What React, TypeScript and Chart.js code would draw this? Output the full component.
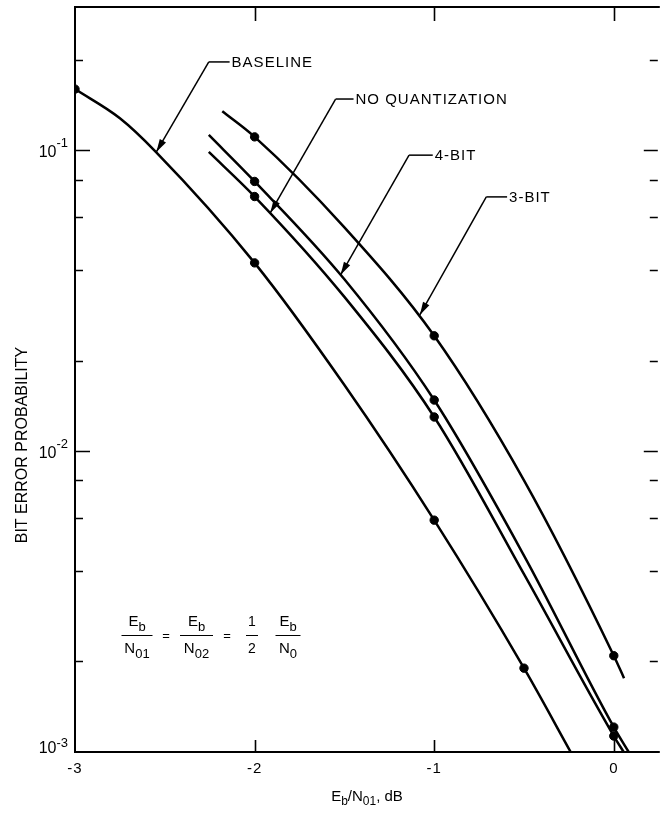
import { useEffect, useRef } from "react";
import { Chart, registerables } from "chart.js";

Chart.register(...registerables);

// ---------- axis ranges & ticks ----------
const X_MIN = -3;
const X_MAX = 0.245;
const Y_MIN = 0.001;
const Y_MAX = 0.3;

const xTickValues = [-3, -2, -1, 0];
const xTickLabels = ["-3", "-2", "-1", "0"];
const xFrameTickValues = [-2, -1, 0];
const yMajorValues = [0.1, 0.01, 0.001];
const yMajorExponents = ["-1", "-2", "-3"];
const yMinorValues = [0.2, 0.08, 0.06, 0.04, 0.02, 0.008, 0.006, 0.004, 0.002];

// ---------- series (curves + measured points) ----------
const baselineCurveX = [-3, -2.75, -2.55, -2, -1.5, -1, -0.5, -0.24];
const baselineCurveY = [0.16, 0.128, 0.099, 0.0423, 0.0166, 0.0059, 0.0019, 0.001];
const baselineDotX = [-3, -2, -1, -0.5];
const baselineDotY = [0.16, 0.0423, 0.0059, 0.0019];

const noQuantCurveX = [-2.255, -2, -1.5, -1, -0.5, 0, 0.055];
const noQuantCurveY = [0.0989, 0.0703, 0.0326, 0.013, 0.0039, 0.00113, 0.001];
const noQuantDotX = [-2, -1, 0];
const noQuantDotY = [0.0703, 0.013, 0.00113];

const fourBitCurveX = [-2.255, -2, -1.5, -1, -0.5, 0, 0.083];
const fourBitCurveY = [0.1126, 0.0789, 0.0373, 0.0148, 0.0045, 0.00121, 0.001];
const fourBitDotX = [-2, -1, 0];
const fourBitDotY = [0.0789, 0.0148, 0.00121];

const threeBitCurveX = [-2.18, -2, -1.5, -1, -0.5, 0, 0.057];
const threeBitCurveY = [0.135, 0.111, 0.0555, 0.0242, 0.008, 0.00209, 0.00176];
const threeBitDotX = [-2, -1, 0];
const threeBitDotY = [0.111, 0.0242, 0.00209];

// ---------- callout annotations (data coordinates) ----------
const calloutText = ["BASELINE", "NO QUANTIZATION", "4-BIT", "3-BIT"];
const calloutTextX = [-2.128, -1.438, -0.997, -0.583];
const calloutTextY = [0.197, 0.1483, 0.0965, 0.0701];
const calloutElbowX = [-2.255, -1.549, -1.14, -0.71];
const calloutTipX = [-2.547, -1.913, -1.521, -1.08];
const calloutTipY = [0.0989, 0.062, 0.0386, 0.0284];

const FONT = '"Liberation Sans", Arial, Helvetica, sans-serif';

type Part = { t: string; size: number; dy?: number };

function pts(xs: number[], ys: number[]) {
  return xs.map((x, i) => ({ x, y: ys[i] }));
}

function richWidth(ctx: CanvasRenderingContext2D, parts: Part[]) {
  let w = 0;
  for (const p of parts) {
    ctx.font = `${p.size}px ${FONT}`;
    w += ctx.measureText(p.t).width;
  }
  return w;
}

function drawRich(
  ctx: CanvasRenderingContext2D,
  parts: Part[],
  x: number,
  y: number,
  align: "left" | "center" | "right"
) {
  const w = richWidth(ctx, parts);
  let cx = align === "left" ? x : align === "center" ? x - w / 2 : x - w;
  ctx.textAlign = "left";
  ctx.textBaseline = "alphabetic";
  for (const p of parts) {
    ctx.font = `${p.size}px ${FONT}`;
    ctx.fillText(p.t, cx, y + (p.dy || 0));
    cx += ctx.measureText(p.t).width;
  }
}

function drawArrow(ctx: CanvasRenderingContext2D, x1: number, y1: number, x2: number, y2: number) {
  ctx.lineWidth = 1.5;
  ctx.beginPath();
  ctx.moveTo(x1, y1);
  ctx.lineTo(x2, y2);
  ctx.stroke();
  const a = Math.atan2(y2 - y1, x2 - x1);
  const L = 13;
  const W = 3.6;
  const bx = x2 - L * Math.cos(a);
  const by = y2 - L * Math.sin(a);
  const nx = -Math.sin(a);
  const ny = Math.cos(a);
  ctx.beginPath();
  ctx.moveTo(x2, y2);
  ctx.lineTo(bx + W * nx, by + W * ny);
  ctx.lineTo(bx - W * nx, by - W * ny);
  ctx.closePath();
  ctx.fill();
}

function drawFraction(
  ctx: CanvasRenderingContext2D,
  cx: number,
  half: number,
  num: Part[],
  den: Part[]
) {
  const barY = 635;
  drawRich(ctx, num, cx, 626, "center");
  drawRich(ctx, den, cx, 653, "center");
  ctx.lineWidth = 1;
  ctx.beginPath();
  ctx.moveTo(cx - half, barY + 0.5);
  ctx.lineTo(cx + half, barY + 0.5);
  ctx.stroke();
}

const overlayPlugin = {
  id: "overlay",
  afterDraw(chart: any) {
    const ctx: CanvasRenderingContext2D = chart.ctx;
    const xs = chart.scales.x;
    const ys = chart.scales.y;
    const { left, right, top, bottom } = chart.chartArea;
    ctx.save();
    ctx.strokeStyle = "#000";
    ctx.fillStyle = "#000";

    // frame (left, top, bottom)
    ctx.lineWidth = 2;
    ctx.beginPath();
    ctx.moveTo(right + 2, top);
    ctx.lineTo(left, top);
    ctx.lineTo(left, bottom);
    ctx.lineTo(right + 2, bottom);
    ctx.stroke();

    // inside ticks, x
    ctx.lineWidth = 1.6;
    for (const v of xFrameTickValues) {
      const px = Math.round(xs.getPixelForValue(v)) + 0.5;
      ctx.beginPath();
      ctx.moveTo(px, top);
      ctx.lineTo(px, top + 14);
      ctx.moveTo(px, bottom);
      ctx.lineTo(px, bottom - 12);
      ctx.stroke();
    }
    // inside ticks, y
    for (const v of yMajorValues) {
      if (v <= Y_MIN) continue;
      const py = Math.round(ys.getPixelForValue(v)) + 0.5;
      ctx.beginPath();
      ctx.moveTo(left, py);
      ctx.lineTo(left + 15, py);
      ctx.moveTo(right, py);
      ctx.lineTo(right - 14, py);
      ctx.stroke();
    }
    for (const v of yMinorValues) {
      const py = Math.round(ys.getPixelForValue(v)) + 0.5;
      ctx.beginPath();
      ctx.moveTo(left, py);
      ctx.lineTo(left + 8, py);
      ctx.moveTo(right, py);
      ctx.lineTo(right - 8, py);
      ctx.stroke();
    }

    // x tick labels
    ctx.letterSpacing = "1px";
    xTickValues.forEach((v, i) => {
      drawRich(ctx, [{ t: xTickLabels[i], size: 15 }], xs.getPixelForValue(v), 773, "center");
    });
    ctx.letterSpacing = "0px";

    // y tick labels 10^n
    const baseOff = [7, 7, 1];
    const supOff = [-10, -10, -6];
    yMajorValues.forEach((v, i) => {
      const py = ys.getPixelForValue(v);
      drawRich(
        ctx,
        [
          { t: "10", size: 16 },
          { t: yMajorExponents[i], size: 13, dy: supOff[i] },
        ],
        68,
        py + baseOff[i],
        "right"
      );
    });

    // axis titles
    drawRich(
      ctx,
      [
        { t: "E", size: 15 },
        { t: "b", size: 12, dy: 4 },
        { t: "/N", size: 15 },
        { t: "01", size: 12, dy: 4 },
        { t: ", dB", size: 15 },
      ],
      367,
      801,
      "center"
    );
    ctx.save();
    ctx.translate(27, 445);
    ctx.rotate(-Math.PI / 2);
    drawRich(ctx, [{ t: "BIT ERROR PROBABILITY", size: 16 }], 0, 0, "center");
    ctx.restore();

    // callouts
    ctx.letterSpacing = "1px";
    calloutText.forEach((txt, i) => {
      const tx = xs.getPixelForValue(calloutTextX[i]);
      const ty = ys.getPixelForValue(calloutTextY[i]);
      const ex = xs.getPixelForValue(calloutElbowX[i]);
      const tipx = xs.getPixelForValue(calloutTipX[i]);
      const tipy = ys.getPixelForValue(calloutTipY[i]);
      ctx.font = `15px ${FONT}`;
      ctx.textAlign = "left";
      ctx.textBaseline = "middle";
      ctx.fillText(txt, tx, ty + 1);
      ctx.lineWidth = 1.5;
      ctx.beginPath();
      ctx.moveTo(tx - 2, ty);
      ctx.lineTo(ex, ty);
      ctx.stroke();
      drawArrow(ctx, ex, ty, tipx, tipy);
    });
    ctx.letterSpacing = "0px";

    // formula
    const E: Part[] = [
      { t: "E", size: 15 },
      { t: "b", size: 13, dy: 5 },
    ];
    drawFraction(ctx, 137, 15.5, E, [
      { t: "N", size: 15 },
      { t: "01", size: 13, dy: 5 },
    ]);
    drawRich(ctx, [{ t: "=", size: 13 }], 166, 640, "center");
    drawFraction(ctx, 196.5, 16.5, E, [
      { t: "N", size: 15 },
      { t: "02", size: 13, dy: 5 },
    ]);
    drawRich(ctx, [{ t: "=", size: 13 }], 227, 640, "center");
    drawFraction(ctx, 252, 6, [{ t: "1", size: 14 }], [{ t: "2", size: 14 }]);
    drawFraction(ctx, 288, 12.5, E, [
      { t: "N", size: 15 },
      { t: "0", size: 13, dy: 5 },
    ]);

    ctx.restore();
  },
};

export default function App() {
  const ref = useRef<HTMLCanvasElement | null>(null);

  useEffect(() => {
    if (!ref.current) return;
    const curve = (xs: number[], ys: number[]) => ({
      type: "line" as const,
      data: pts(xs, ys),
      borderColor: "#000",
      borderWidth: 2.5,
      pointRadius: 0,
      fill: false,
      cubicInterpolationMode: "monotone" as const,
    });
    const dots = (xs: number[], ys: number[]) => ({
      type: "scatter" as const,
      data: pts(xs, ys),
      backgroundColor: "#000",
      borderColor: "#000",
      pointRadius: 4.2,
      showLine: false,
    });
    const chart = new Chart(ref.current, {
      type: "line",
      data: {
        datasets: [
          curve(baselineCurveX, baselineCurveY),
          curve(noQuantCurveX, noQuantCurveY),
          curve(fourBitCurveX, fourBitCurveY),
          curve(threeBitCurveX, threeBitCurveY),
          dots(baselineDotX, baselineDotY),
          dots(noQuantDotX, noQuantDotY),
          dots(fourBitDotX, fourBitDotY),
          dots(threeBitDotX, threeBitDotY),
        ] as any,
      },
      options: {
        animation: false,
        responsive: false,
        devicePixelRatio: 1,
        layout: { padding: { left: 75, top: 7, right: 0, bottom: 61 } },
        plugins: { legend: { display: false }, tooltip: { enabled: false } },
        scales: {
          x: { type: "linear", min: X_MIN, max: X_MAX, display: false },
          y: { type: "logarithmic", min: Y_MIN, max: Y_MAX, display: false },
        },
      },
      plugins: [overlayPlugin],
    });
    return () => chart.destroy();
  }, []);

  return (
    <div style={{ position: "absolute", left: 0, top: 0, width: 663, height: 813, background: "#fff" }}>
      <canvas ref={ref} width={663} height={813} style={{ width: 663, height: 813, display: "block" }} />
    </div>
  );
}
